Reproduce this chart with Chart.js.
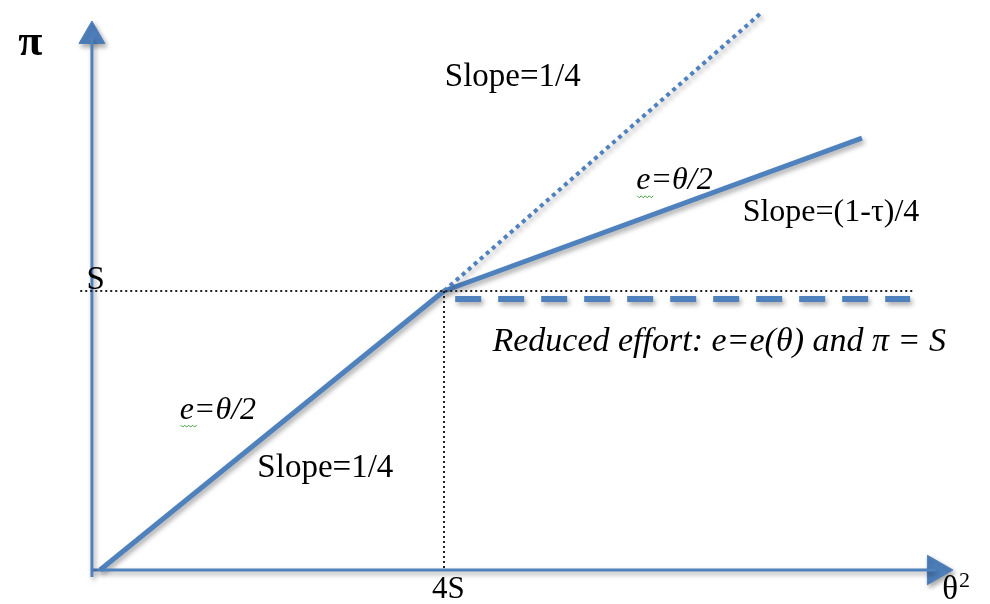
<!DOCTYPE html>
<html>
<head>
<meta charset="utf-8">
<script src="https://cdn.jsdelivr.net/npm/chart.js@4.4.1/dist/chart.umd.min.js"></script>
<style>
  html, body { margin: 0; padding: 0; background: #fff; }
  canvas { display: block; }
</style>
</head>
<body>
<canvas id="effort_chart" width="990" height="604"></canvas>
<script>
// profit π against θ², in units of S (knee at θ² = 4S, π = S)
const lowSegment     = [{x: 0, y: 0}, {x: 4, y: 1}];          // slope 1/4
const taxSegment     = [{x: 4, y: 1}, {x: 8.86, y: 1.548}];   // slope (1-τ)/4
const noTaxSegment   = [{x: 4, y: 1}, {x: 7.7, y: 2.0}];      // slope 1/4 continued
const reducedEffort  = [{x: 4.13, y: 0.971}, {x: 9.42, y: 0.971}];
const sGuide         = [{x: -0.23, y: 1}, {x: 9.47, y: 1}];
const fourSGuide     = [{x: 4, y: 1}, {x: 4, y: 0}];
const yAxisLine      = [{x: -0.094, y: -0.025}, {x: -0.094, y: 1.914}];
const xAxisLine      = [{x: -0.094, y: 0}, {x: 9.72, y: 0}];
const arrowHeads     = [{x: -0.094, y: 1.914}, {x: 9.72, y: 0}];

const labelTexts = ["π", "S", "4S", "θ²", "Slope=1/4", "e=θ/2", "Slope=(1-τ)/4",
  "Reduced effort: e=e(θ) and π = S", "e=θ/2", "Slope=1/4"];

const BLUE = 'rgb(79, 129, 189)';
const SERIF = '"Liberation Serif", "Times New Roman", serif';

// where each text goes (data units) and how it looks
const labelPlaces = [
  {x: -0.81, y: 1.885, size: 44, style: 'bold '},
  {x: -0.05, y: 1.04,  size: 33, style: ''},
  {x: 4.05,  y: -0.072, size: 31, style: ''},
  {x: 9.95,  y: -0.072, size: 33, style: ''},
  {x: 4.8,   y: 1.765, size: 33, style: ''},
  {x: 6.68,  y: 1.395, size: 32, style: 'italic ', squiggle: true},
  {x: 8.5,   y: 1.28,  size: 32, style: ''},
  {x: 7.2,   y: 0.817, size: 34, style: 'italic '},
  {x: 1.37,  y: 0.573, size: 32, style: 'italic ', squiggle: true},
  {x: 2.62,  y: 0.365, size: 33, style: ''}
];

// soft grey drop shadow under the blue strokes, not under the black guides
const shadowPlugin = {
  id: 'shadow',
  beforeDatasetDraw(chart, args) {
    const ctx = chart.ctx;
    ctx.save();
    if (args.meta._dataset.shadow) {
      ctx.shadowColor = 'rgba(0,0,0,0.35)';
      ctx.shadowBlur = 5;
      ctx.shadowOffsetX = 2;
      ctx.shadowOffsetY = 3;
    }
  },
  afterDatasetDraw(chart) {
    chart.ctx.restore();
  }
};

const textPlugin = {
  id: 'texts',
  afterDraw(chart) {
    const ctx = chart.ctx;
    const {x: xs, y: ys} = chart.scales;
    ctx.save();
    ctx.fillStyle = '#000';
    ctx.textBaseline = 'middle';
    labelTexts.forEach((txt, i) => {
      const p = labelPlaces[i];
      const px = xs.getPixelForValue(p.x);
      const py = ys.getPixelForValue(p.y);
      const font = p.style + p.size + 'px ' + SERIF;
      ctx.font = font;
      if (txt.endsWith('²')) {
        // draw the square as a raised, larger "2" like the original typesetting
        const base = txt.slice(0, -1);
        const supFont = p.style + Math.round(p.size * 0.68) + 'px ' + SERIF;
        const bw = ctx.measureText(base).width;
        ctx.font = supFont;
        const sw = ctx.measureText('2').width;
        const sx = px - (bw + sw) / 2;
        ctx.textAlign = 'left';
        ctx.font = font;
        ctx.fillText(base, sx, py);
        ctx.font = supFont;
        ctx.fillText('2', sx + bw + 1, py - p.size * 0.28);
        return;
      }
      ctx.textAlign = 'center';
      ctx.fillText(txt, px, py);
      if (p.squiggle) {
        // spell-check wave under the leading "e"
        const w = ctx.measureText(txt).width;
        const sx = px - w / 2 + 1;
        ctx.strokeStyle = 'rgb(60, 160, 60)';
        ctx.lineWidth = 1;
        ctx.beginPath();
        for (let k = 0; k <= 8; k++) {
          const yy = py + 15 + (k % 2 ? 2 : 0);
          k === 0 ? ctx.moveTo(sx + k * 2, yy) : ctx.lineTo(sx + k * 2, yy);
        }
        ctx.stroke();
      }
    });
    ctx.restore();
  }
};

function lineSet(data, color, width, dash, shadow) {
  return {
    data: data,
    showLine: true,
    borderColor: color,
    borderWidth: width,
    borderDash: dash || [],
    pointRadius: 0,
    fill: false,
    tension: 0,
    shadow: shadow
  };
}

const ctx = document.getElementById('effort_chart');
new Chart(ctx, {
  type: 'scatter',
  data: {
    datasets: [
      lineSet(sGuide, '#222', 2, [2, 3], false),
      lineSet(fourSGuide, '#222', 2, [2, 3], false),
      lineSet(yAxisLine, BLUE, 3, null, true),
      lineSet(xAxisLine, BLUE, 3, null, true),
      {
        data: arrowHeads,
        showLine: false,
        pointStyle: 'triangle',
        pointRadius: [15, 17],
        rotation: [0, 90],
        backgroundColor: BLUE,
        borderColor: BLUE,
        borderWidth: 1,
        shadow: true
      },
      lineSet(noTaxSegment, BLUE, 4, [4, 4], true),
      lineSet(reducedEffort, BLUE, 6, [26, 17], true),
      lineSet(lowSegment, BLUE, 5, null, true),
      lineSet(taxSegment, BLUE, 5, null, true)
    ]
  },
  options: {
    responsive: false,
    animation: false,
    layout: { padding: 0, autoPadding: false },
    plugins: { legend: { display: false }, tooltip: { enabled: false } },
    scales: {
      x: { type: 'linear', display: false, min: -1.163, max: 10.349 },
      y: { type: 'linear', display: false, min: -0.1219, max: 2.043 }
    }
  },
  plugins: [shadowPlugin, textPlugin]
});
</script>
</body>
</html>
